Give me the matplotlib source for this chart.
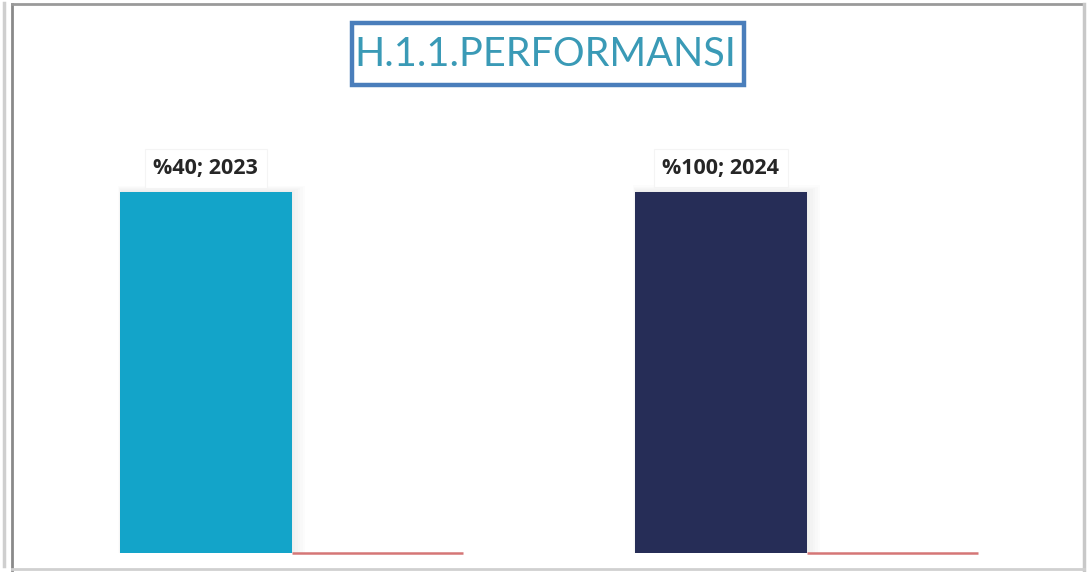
import matplotlib.pyplot as plt
from matplotlib.patches import Rectangle
from matplotlib.lines import Line2D
import numpy as np

categories = ['%40', '%100']
values = [2023, 2024]
zero_series = [0, 0]
bar_colors = ['#13A4C9', '#262D57']
title = 'H.1.1.PERFORMANSI'

fig = plt.figure(figsize=(10.89, 5.72), dpi=100)
fig.patch.set_facecolor('white')

# plot area in pixel terms: x 34..1064, y 107..553
W, H = 1089, 572
ax = fig.add_axes([34 / W, (H - 553) / H, 1030 / W, (553 - 107) / H])
ax.set_xlim(-0.5, 1.5)
ax.set_ylim(0, 2500)
ax.axis('off')

x = np.arange(len(categories))
bw = 343 / 515 / 2

# soft shadow behind bars
for i in range(len(x)):
    for k in range(6):
        ax.bar(x[i] - bw / 2 + 0.002 * (k + 1), values[i] + 6 * (k + 1), bw + 0.006 * k,
               color='black', alpha=0.012, zorder=1, linewidth=0)
ax.bar(x - bw / 2, values, bw, color=bar_colors, zorder=3, linewidth=0)
for i in range(len(x)):
    ax.plot([x[i], x[i] + bw], [zero_series[i], zero_series[i]], color='#D57676', lw=1.8,
            zorder=4, solid_capstyle='butt', clip_on=False)

# data labels with white box
for i in range(len(x)):
    ax.annotate(f'{categories[i]}; {values[i]}', (x[i] - bw / 2, values[i]),
                xytext=(0, 17), textcoords='offset points', ha='center', va='center',
                fontsize=15.5, fontweight='bold', color='#262626', family='Open Sans',
                bbox=dict(boxstyle='square,pad=0.4', fc='white', ec='#f4f4f4', lw=0.8),
                zorder=6)

# title box
fig.patches.append(Rectangle((352 / W, (H - 85) / H), 392 / W, 62 / H,
                             transform=fig.transFigure, fill=False,
                             ec='#4A7EBB', lw=3.2))
fig.text(545 / W, (H - 55) / H, title, ha='center', va='center', fontsize=28.5,
         color='#3A9AB6', family='Lato')

# outer frame
fig.add_artist(Line2D([4 / W, 4 / W], [0.01, 0.995], color='#cfcfcf', lw=2.5))
fig.add_artist(Line2D([12 / W, 12 / W], [2 / H, (H - 4) / H], color='#8a8a8a', lw=2))
fig.add_artist(Line2D([12 / W, 1084 / W], [(H - 4) / H, (H - 4) / H], color='#9a9a9a', lw=2))
fig.add_artist(Line2D([1084 / W, 1084 / W], [2 / H, (H - 4) / H], color='#c8c8c8', lw=2.5))
fig.add_artist(Line2D([12 / W, 1084 / W], [3 / H, 3 / H], color='#d0d0d0', lw=2))

fig.savefig('out.png', dpi=100, facecolor='white')
